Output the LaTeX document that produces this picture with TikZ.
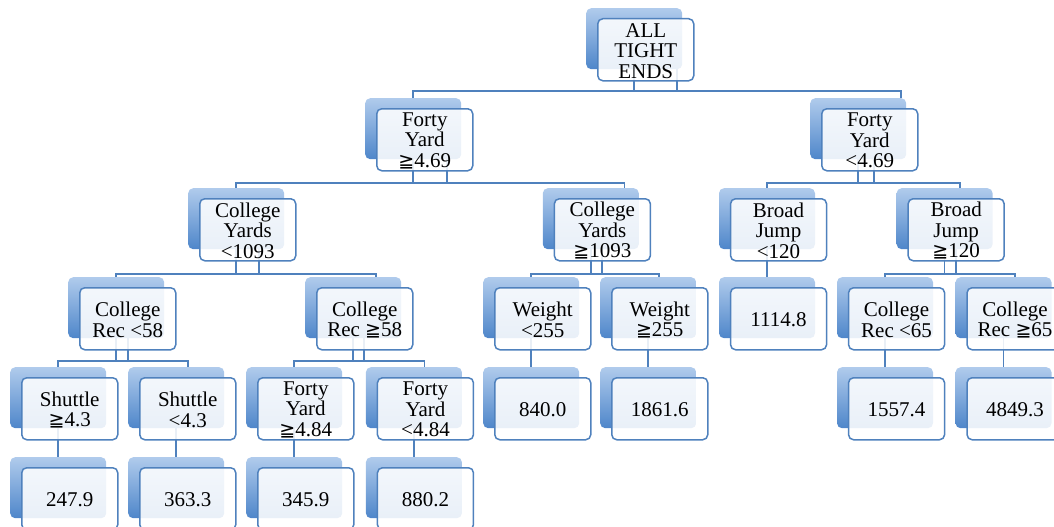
\documentclass[tikz,border=0pt]{standalone}
\usepackage{fontspec}
\setmainfont{Liberation Serif}
\newfontfamily\symf{DejaVu Sans}
\usetikzlibrary{backgrounds,calc}

\definecolor{bord}{RGB}{79,129,189}
\definecolor{shtop}{RGB}{176,203,236}
\definecolor{shbot}{RGB}{78,134,202}

\newcommand\gq{{\symf\fontsize{19}{20.5}\selectfont ≧}}

\tikzset{
  shbox/.style={rounded corners=5pt, minimum width=96pt, minimum height=61pt,
    anchor=north west, top color=shtop, bottom color=shbot, draw=none, inner sep=0pt},
  frbox/.style={rounded corners=5pt, minimum width=96pt, minimum height=62pt,
    anchor=north west, draw=bord, line width=1.5pt, fill=white, fill opacity=0.88,
    inner sep=0pt},
  txt/.style={align=center, inner sep=0pt, font=\fontsize{21}{20.5}\selectfont},
  conn/.style={draw=bord, line width=1.6pt},
}

\newcommand\mkbox[4]{%
  \node[shbox] (#1s) at (#2,#3) {};
  \node[frbox] (#1) at (#2+11,#3+10) {};
  \node[txt] (#1t) at ([yshift=-1pt]#1.center) {#4};
}
% parent, left child, right child, offset, bus
\newcommand\mkfork[5]{%
  \draw[conn] (#2s.north) |- ($(#3s.north |- #5)+(#4,0)$) -- ($(#3s.north)+(#4,0)$);
  \draw[conn] (#1s.center) -- (#1s.center |- #5);
  \draw[conn] ($(#1s.center)+(#4,0)$) -- ($(#1s.center |- #5)+(#4,0)$);
}
\newcommand\mkline[2]{%
  \draw[conn] (#1s.center) -- (#1s.center |- #2s.north);
}

\begin{document}
\begin{tikzpicture}[x=1pt,y=-1pt]
\useasboundingbox (0,0) rectangle (1054,527);

\coordinate (b0) at (0,91);
\coordinate (b1) at (0,183);
\coordinate (b2) at (0,274);
\coordinate (b3) at (0,361);

% level 0
\mkbox{all}{586}{8}{ALL\\TIGHT\\ENDS}
% level 1
\mkbox{fa}{365}{98}{Forty\\Yard\\\gq4.69}
\mkbox{fb}{810}{98}{Forty\\Yard\\<4.69}
% level 2
\mkbox{cya}{188}{188}{College\\Yards\\<1093}
\mkbox{cyb}{542.6}{188}{College\\Yards\\\gq1093}
\mkbox{bja}{718.8}{188}{Broad\\Jump\\<120}
\mkbox{bjb}{896.4}{188}{Broad\\Jump\\\gq120}
% level 3
\mkbox{cra}{68}{277}{College\\Rec <58}
\mkbox{crb}{305}{277}{College\\Rec \gq58}
\mkbox{wa}{483}{277}{Weight\\<255}
\mkbox{wb}{600}{277}{Weight\\\gq255}
\mkbox{va}{718.8}{277}{1114.8}
\mkbox{crc}{836.8}{277}{College\\Rec <65}
\mkbox{crd}{955.3}{277}{College\\Rec \gq65}
% level 4
\mkbox{sa}{10}{367}{Shuttle\\\gq4.3}
\mkbox{sb}{128}{367}{Shuttle\\<4.3}
\mkbox{fc}{246}{367}{Forty\\Yard\\\gq4.84}
\mkbox{fd}{365.7}{367}{Forty\\Yard\\<4.84}
\mkbox{vb}{483}{367}{840.0}
\mkbox{vc}{600}{367}{1861.6}
\mkbox{vd}{836.8}{367}{1557.4}
\mkbox{ve}{955.3}{367}{4849.3}
% level 5
\mkbox{vf}{10}{457}{247.9}
\mkbox{vg}{128}{457}{363.3}
\mkbox{vh}{246}{457}{345.9}
\mkbox{vi}{365.7}{457}{880.2}

\begin{scope}[on background layer]
  \mkfork{all}{fa}{fb}{43}{b0}
  \mkfork{fa}{cya}{cyb}{33.5}{b1}
  \mkfork{fb}{bja}{bjb}{15.5}{b1}
  \mkfork{cya}{cra}{crb}{23}{b2}
  \mkfork{cyb}{wa}{wb}{11}{b2}
  \mkline{bja}{va}
  \mkfork{bjb}{crc}{crd}{11.5}{b2}
  \mkfork{cra}{sa}{sb}{11.5}{b3}
  \mkfork{crb}{fc}{fd}{10.5}{b3}
  \mkline{wa}{vb}
  \mkline{wb}{vc}
  \mkline{crc}{vd}
  \mkline{crd}{ve}
  \mkline{sa}{vf}
  \mkline{sb}{vg}
  \mkline{fc}{vh}
  \mkline{fd}{vi}
\end{scope}
\end{tikzpicture}
\end{document}
